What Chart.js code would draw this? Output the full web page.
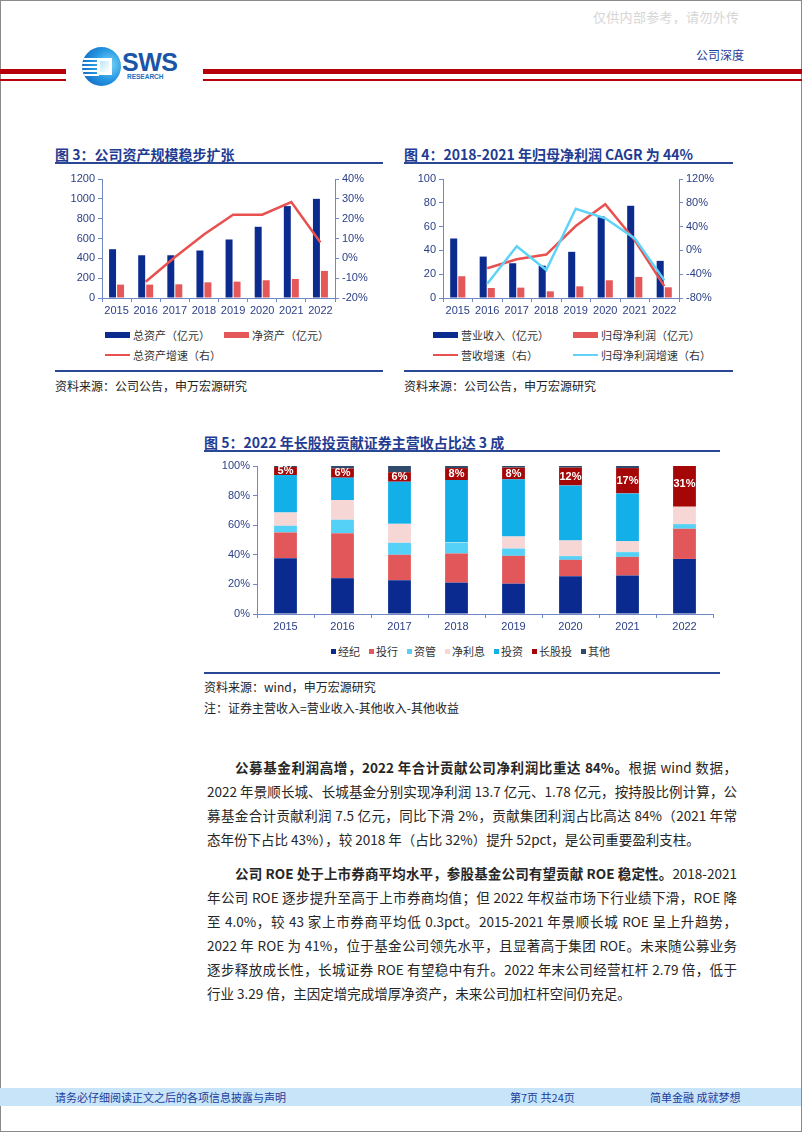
<!DOCTYPE html>
<html>
<head>
<meta charset="utf-8">
<script src="https://cdn.jsdelivr.net/npm/chart.js@4.4.0/dist/chart.umd.min.js"></script>
<style>
body{margin:0;width:802px;height:1133px;position:relative;background:#fff;overflow:hidden;
  font-family:"Noto Sans CJK SC","Noto Sans",sans-serif;color:#262626}
.abs{position:absolute}
.page{left:0;top:0;width:802px;height:1132px;box-sizing:border-box;border:1px solid #8a8a8a}
.red{background:#b5000c}
.ttl{font-size:14px;font-weight:bold;color:#1f3c92;line-height:18px;white-space:nowrap}
.rule{height:2px;background:#2a4796}
.src{font-size:12px;line-height:16px;color:#222;white-space:nowrap}
.lg{position:absolute;display:flex;align-items:center;height:16px;font-size:11px;color:#333;white-space:nowrap}
.sw-bar{display:inline-block;width:25px;height:6px;margin-right:3px}
.sw-line{display:inline-block;width:25px;height:2.5px;margin-right:3px}
.lg5{position:absolute;left:331px;top:643px;display:flex;gap:9px;font-size:11px;color:#333;white-space:nowrap;height:16px;align-items:center}
.lg5 span.it{display:flex;align-items:center}
.lg5 i{display:inline-block;width:5px;height:5px;margin-right:2px}
.txt{left:207px;width:530px;font-size:13.5px;line-height:24px;color:#262626}
.ln{height:24px;white-space:nowrap}
.ln.j{text-align:justify;text-align-last:justify}
.ln.ind{padding-left:28px;box-sizing:border-box}
.foot{left:0;top:1088px;width:801px;height:18px;background:#c7e4f8}
.ft{font-size:11px;line-height:18px;color:#1d3c9c;white-space:nowrap;top:1088px}
</style>
</head>
<body>
<div class="abs page"></div>

<!-- header -->
<div class="abs" style="left:593px;top:9px;font-size:13px;line-height:16px;color:#d6d6d6;white-space:nowrap;letter-spacing:0.3px">仅供内部参考，请勿外传</div>
<div class="abs" style="left:696px;top:47px;font-size:12px;line-height:16px;color:#1d3c9c">公司深度</div>
<div class="abs red" style="left:0;top:69px;width:66px;height:5px"></div>
<div class="abs red" style="left:0;top:78.5px;width:66px;height:2px"></div>
<div class="abs red" style="left:203px;top:69px;width:599px;height:5px"></div>
<div class="abs red" style="left:203px;top:78.5px;width:599px;height:2px"></div>
<div class="abs" style="left:82px;top:47px;width:39px;height:39px;border-radius:50%;overflow:hidden;
  background:radial-gradient(circle at 70% 45%,#7dd6f7 0%,#2596e2 45%,#0d57b2 100%)">
  <div class="abs" style="left:0;top:11px;width:17px;height:2px;background:#fff"></div>
  <div class="abs" style="left:0;top:15px;width:17px;height:2px;background:#fff"></div>
  <div class="abs" style="left:0;top:19px;width:17px;height:2px;background:#fff"></div>
  <div class="abs" style="left:0;top:23px;width:17px;height:2px;background:#fff"></div>
  <div class="abs" style="left:0;top:27px;width:17px;height:2px;background:#fff"></div>
  <div class="abs" style="left:15px;top:11px;width:15px;height:17px;background:#fff"></div>
  <div class="abs" style="left:18px;top:14px;width:9px;height:11px;background:linear-gradient(135deg,#bfe6fb,#ffffff)"></div>
</div>
<div class="abs" style="left:122px;top:48px;font-family:'Liberation Sans',Arial,sans-serif;font-weight:bold;font-size:25px;line-height:28px;color:#1a55a8;letter-spacing:-0.5px">SWS</div>
<div class="abs" style="left:127px;top:73px;font-family:'Liberation Sans',Arial,sans-serif;font-weight:bold;font-size:6.5px;line-height:8px;color:#1a6fc0">RESEARCH</div>

<!-- figure 3 -->
<div class="abs ttl" style="left:55px;top:145px">图 3：公司资产规模稳步扩张</div>
<div class="abs rule" style="left:55px;top:162px;width:328px"></div>
<canvas id="c3" class="abs" style="left:50px;top:168px" width="330" height="152"></canvas>
<div id="lg3"></div>
<div class="abs rule" style="left:55px;top:370px;width:328px;height:1.5px"></div>
<div class="abs src" style="left:55px;top:378px">资料来源：公司公告，申万宏源研究</div>

<!-- figure 4 -->
<div class="abs ttl" style="left:404px;top:145px">图 4：2018-2021 年归母净利润 CAGR 为 44%</div>
<div class="abs rule" style="left:404px;top:162px;width:329px"></div>
<canvas id="c4" class="abs" style="left:400px;top:168px" width="324" height="152"></canvas>
<div id="lg4"></div>
<div class="abs rule" style="left:404px;top:370px;width:329px;height:1.5px"></div>
<div class="abs src" style="left:404px;top:378px">资料来源：公司公告，申万宏源研究</div>

<!-- figure 5 -->
<div class="abs ttl" style="left:204px;top:433px">图 5：2022 年长股投贡献证券主营收占比达 3 成</div>
<div class="abs rule" style="left:204px;top:450px;width:516px"></div>
<canvas id="c5" class="abs" style="left:200px;top:455px" width="520" height="181"></canvas>
<div class="lg5" id="lg5"></div>
<div class="abs rule" style="left:204px;top:672px;width:516px;height:1.5px"></div>
<div class="abs src" style="left:204px;top:679px">资料来源：wind，申万宏源研究</div>
<div class="abs src" style="left:204px;top:700px">注：证券主营收入=营业收入-其他收入-其他收益</div>

<!-- body text -->
<div class="abs txt" style="top:755px">
  <div class="ln j ind"><span><b>公募基金利润高增，2022 年合计贡献公司净利润比重达 84%。</b>根据 wind 数据，</span></div>
  <div class="ln j"><span>2022 年景顺长城、长城基金分别实现净利润 13.7 亿元、1.78 亿元，按持股比例计算，公</span></div>
  <div class="ln j"><span>募基金合计贡献利润 7.5 亿元，同比下滑 2%，贡献集团利润占比高达 84%（2021 年常</span></div>
  <div class="ln"><span>态年份下占比 43%），较 2018 年（占比 32%）提升 52pct，是公司重要盈利支柱。</span></div>
</div>
<div class="abs txt" style="top:861px">
  <div class="ln j ind"><span><b>公司 ROE 处于上市券商平均水平，参股基金公司有望贡献 ROE 稳定性。</b>2018-2021</span></div>
  <div class="ln j"><span>年公司 ROE 逐步提升至高于上市券商均值；但 2022 年权益市场下行业绩下滑，ROE 降</span></div>
  <div class="ln j"><span>至 4.0%，较 43 家上市券商平均低 0.3pct。2015-2021 年景顺长城 ROE 呈上升趋势，</span></div>
  <div class="ln j"><span>2022 年 ROE 为 41%，位于基金公司领先水平，且显著高于集团 ROE。未来随公募业务</span></div>
  <div class="ln j"><span>逐步释放成长性，长城证券 ROE 有望稳中有升。2022 年末公司经营杠杆 2.79 倍，低于</span></div>
  <div class="ln"><span>行业 3.29 倍，主因定增完成增厚净资产，未来公司加杠杆空间仍充足。</span></div>
</div>

<!-- footer -->
<div class="abs foot"></div>
<div class="abs ft" style="left:55px">请务必仔细阅读正文之后的各项信息披露与声明</div>
<div class="abs ft" style="left:510px">第7页 共24页</div>
<div class="abs ft" style="left:650px">简单金融 成就梦想</div>

<script>
// years on the x axis
const years = ['2015', '2016', '2017', '2018', '2019', '2020', '2021', '2022'];

// fig 3: assets (亿元) and growth (%)
const totalAssets = [492, 431, 431, 479, 590, 718, 927, 1000];
const netAssets = [135, 135, 138, 158, 165, 179, 192, 273];
const assetGrowth = [null, -11.8, 0.5, 12, 22, 22, 28.4, 8];

// fig 4: revenue / net profit (亿元) and growth (%)
const revenue = [50, 34.8, 29.2, 27.2, 38.8, 68.5, 77.5, 31.2];
const netProfit = [18.3, 8.4, 8.7, 5.6, 9.8, 14.9, 17.7, 9];
const revenueGrowth = [null, -30, -15, -7, 41, 77.5, 17, -60];
const profitGrowth = [null, -56, 7, -33, 70, 54, 20, -50];

// fig 5: revenue mix (%)
const mixNames = ['经纪', '投行', '资管', '净利息', '投资', '长股投', '其他'];
const brokerage = [37.7, 24.2, 22.8, 21.2, 20.5, 25.5, 26.0, 37.2];
const ibanking = [17.4, 30.4, 17.2, 19.7, 18.8, 11.1, 12.6, 20.4];
const assetMgmt = [4.5, 9.1, 8.1, 7.4, 4.9, 2.5, 3.2, 3.1];
const netInterest = [9.0, 13.3, 12.8, 0.3, 8.2, 10.6, 7.4, 11.8];
const investment = [25.3, 15.1, 28.5, 41.9, 38.6, 37.2, 32.3, -3.5];
const equityInv = [5.4, 6.2, 6.4, 8.1, 7.9, 12.0, 17.1, 31.0];
const others = [0.7, 1.7, 4.2, 1.4, 1.1, 1.1, 1.4, 0];

const NAVY = '#0b2b8e';
const SALMON = '#e4585a';
const axisColor = '#7088c4';

Chart.defaults.font.family = '"Liberation Sans", Arial, sans-serif';
Chart.defaults.font.size = 11;
Chart.defaults.color = '#2b3f86';
Chart.defaults.animation = false;
Chart.defaults.plugins.legend.display = false;
Chart.defaults.plugins.tooltip.enabled = false;

function yAxis(pos, width, min, max, step, fmt) {
    return {
        position: pos, min: min, max: max,
        ticks: { stepSize: step, padding: 3, callback: fmt },
        grid: { drawOnChartArea: false, tickLength: 4, color: axisColor },
        border: { color: axisColor, width: 1 },
        afterFit: s => { s.width = width; }
    };
}
function xAxis(stacked) {
    return {
        stacked: stacked, offset: true,
        ticks: { padding: 2, maxRotation: 0, autoSkip: false },
        grid: { offset: true, drawOnChartArea: false, tickLength: 4, color: axisColor },
        border: { color: axisColor, width: 1 },
        afterFit: s => { s.height = 22; }
    };
}
const pct = v => v + '%';

function htmlLegend(chart, boxId, slots) {
    const box = document.getElementById(boxId);
    chart.data.datasets.forEach((ds, i) => {
        const item = document.createElement('div');
        item.className = 'lg';
        item.style.left = slots[i][0] + 'px';
        item.style.top = slots[i][1] + 'px';
        const sw = document.createElement('span');
        const isLine = ds.type === 'line';
        sw.className = isLine ? 'sw-line' : 'sw-bar';
        sw.style.background = isLine ? ds.borderColor : ds.backgroundColor;
        item.appendChild(sw);
        item.appendChild(document.createTextNode(ds.label));
        box.appendChild(item);
    });
}

// Figure 3
const chart3 = new Chart(document.getElementById('c3'), {
    type: 'bar',
    data: {
        labels: years,
        datasets: [
            { label: '总资产（亿元）', data: totalAssets, backgroundColor: NAVY, yAxisID: 'y', order: 1,
              categoryPercentage: 0.55, barPercentage: 0.87 },
            { label: '净资产（亿元）', data: netAssets, backgroundColor: SALMON, yAxisID: 'y', order: 1,
              categoryPercentage: 0.55, barPercentage: 0.87 },
            { type: 'line', label: '总资产增速（右）', data: assetGrowth, yAxisID: 'y1', order: 0,
              borderColor: '#e8514f', borderWidth: 2.5, pointRadius: 0, tension: 0 }
        ]
    },
    options: {
        responsive: false,
        layout: { padding: { top: 11, left: 0, right: 0, bottom: 0 } },
        scales: {
            x: xAxis(false),
            y: yAxis('left', 52, 0, 1200, 200),
            y1: yAxis('right', 45, -20, 40, 10, pct)
        }
    }
});
htmlLegend(chart3, 'lg3', [[105, 327], [224, 327], [105, 347]]);

// Figure 4
const chart4 = new Chart(document.getElementById('c4'), {
    type: 'bar',
    data: {
        labels: years,
        datasets: [
            { label: '营业收入（亿元）', data: revenue, backgroundColor: NAVY, yAxisID: 'y', order: 2,
              categoryPercentage: 0.55, barPercentage: 0.87 },
            { label: '归母净利润（亿元）', data: netProfit, backgroundColor: SALMON, yAxisID: 'y', order: 2,
              categoryPercentage: 0.55, barPercentage: 0.87 },
            { type: 'line', label: '营收增速（右）', data: revenueGrowth, yAxisID: 'y1', order: 1,
              borderColor: '#e8514f', borderWidth: 2.5, pointRadius: 0, tension: 0 },
            { type: 'line', label: '归母净利润增速（右）', data: profitGrowth, yAxisID: 'y1', order: 0,
              borderColor: '#5fd3f7', borderWidth: 2.5, pointRadius: 0, tension: 0 }
        ]
    },
    options: {
        responsive: false,
        layout: { padding: { top: 11, left: 0, right: 0, bottom: 0 } },
        scales: {
            x: xAxis(false),
            y: yAxis('left', 43, 0, 100, 20),
            y1: yAxis('right', 45, -80, 120, 40, pct)
        }
    }
});
htmlLegend(chart4, 'lg4', [[433, 327], [573, 327], [433, 347], [573, 347]]);

// Figure 5
const mixSeries = [brokerage, ibanking, assetMgmt, netInterest, investment, equityInv, others];
const mixColors = ['#0a2a8f', '#e2585a', '#55d0f6', '#f7d6d6', '#12afe9', '#a50707', '#2f4a6a'];

const segLabels = {
    id: 'segLabels',
    afterDatasetsDraw(chart) {
        const idx = 5;
        const meta = chart.getDatasetMeta(idx);
        const ctx = chart.ctx;
        ctx.save();
        ctx.font = 'bold 11px "Liberation Sans", Arial, sans-serif';
        ctx.fillStyle = '#ffffff';
        ctx.textAlign = 'center';
        ctx.textBaseline = 'middle';
        meta.data.forEach((bar, i) => {
            const v = chart.data.datasets[idx].data[i];
            ctx.fillText(Math.round(v) + '%', bar.x, (bar.y + bar.base) / 2);
        });
        ctx.restore();
    }
};

const chart5 = new Chart(document.getElementById('c5'), {
    type: 'bar',
    data: {
        labels: years,
        datasets: mixNames.map((name, i) => ({
            label: name,
            data: mixSeries[i],
            backgroundColor: mixColors[i],
            stack: 's',
            clip: 0,
            categoryPercentage: 1,
            barPercentage: 0.4
        }))
    },
    options: {
        responsive: false,
        layout: { padding: { top: 11, left: 0, right: 7, bottom: 0 } },
        scales: {
            x: xAxis(true),
            y: Object.assign(yAxis('left', 57, 0, 100, 20, pct), { stacked: true })
        }
    },
    plugins: [segLabels]
});

const lg5 = document.getElementById('lg5');
chart5.data.datasets.forEach(ds => {
    const it = document.createElement('span');
    it.className = 'it';
    const sq = document.createElement('i');
    sq.style.background = ds.backgroundColor;
    it.appendChild(sq);
    it.appendChild(document.createTextNode(ds.label));
    lg5.appendChild(it);
});

// squeeze body lines that are wider than the column
document.querySelectorAll('.ln').forEach(ln => {
    const span = ln.firstElementChild;
    const avail = ln.clientWidth - (ln.classList.contains('ind') ? 28 : 0);
    const w = span.getBoundingClientRect().width;
    if (w > avail) {
        const n = span.textContent.length;
        ln.style.letterSpacing = ((avail - w) / n) + 'px';
    }
});
</script>
</body>
</html>
